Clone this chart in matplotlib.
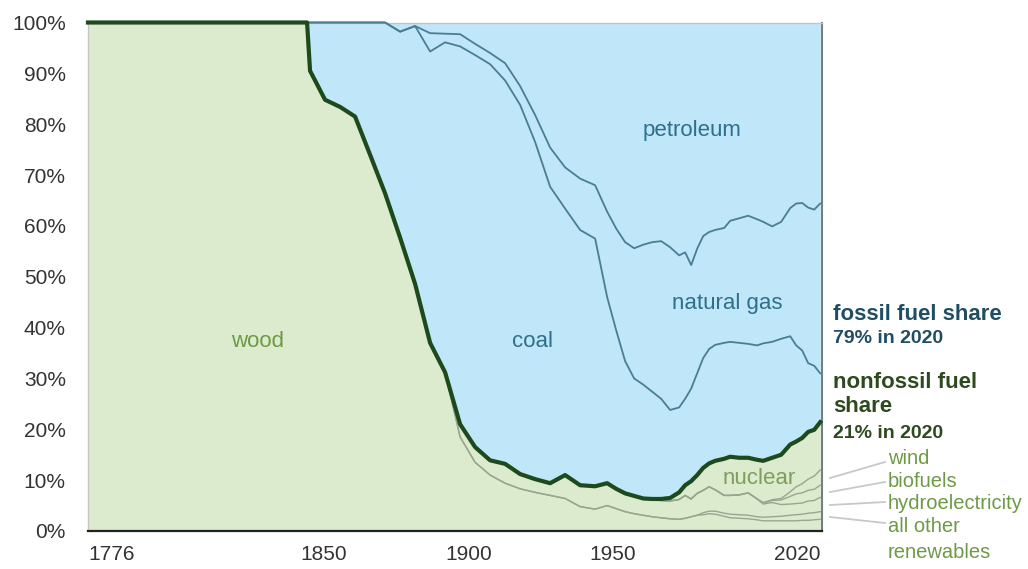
import matplotlib
matplotlib.use("Agg")
import matplotlib.pyplot as plt
import matplotlib.transforms as mtransforms

# ---------------- data (percent of total U.S. primary energy, cumulative layer tops) ----------------
years = [1776, 1849, 1850, 1855, 1860, 1865, 1870, 1875, 1880, 1885, 1890, 1895, 1900, 1905,
         1910, 1915, 1920, 1925, 1930, 1935, 1940, 1945, 1949, 1952, 1955, 1958, 1961, 1964,
         1967, 1970, 1973, 1975, 1977, 1979, 1981, 1983, 1985, 1988, 1990, 1993, 1996, 1999,
         2001, 2004, 2007, 2010, 2012, 2014, 2016, 2018, 2020]

# top of the nonfossil stack (thick line) = nonfossil fuel share
nonfossil_top = [100, 100, 90.5, 84.8, 83.4, 81.5, 74.0, 66.4, 57.7, 48.6, 37.0, 31.2, 21.0, 16.5,
                 13.9, 13.2, 11.2, 10.2, 9.4, 11.0, 9.0, 8.8, 9.4, 8.3, 7.4, 6.9, 6.4, 6.3,
                 6.3, 6.5, 7.6, 9.0, 9.8, 11.0, 12.4, 13.3, 13.8, 14.2, 14.6, 14.4, 14.4, 14.0,
                 13.8, 14.4, 15.0, 17.0, 17.6, 18.3, 19.5, 19.9, 21.4]

# top of coal (coal + nonfossil)
coal_top = [100, 100, 100, 100, 100, 100, 100, 100, 98.2, 99.3, 94.3, 96.1, 95.3, 93.6,
            91.8, 88.6, 83.8, 76.5, 67.7, 63.4, 59.2, 57.5, 46.0, 39.5, 33.4, 30.0, 28.8, 27.4,
            26.0, 23.8, 24.3, 26.0, 28.0, 31.0, 34.0, 35.8, 36.6, 37.0, 37.2, 37.0, 36.8, 36.5,
            36.9, 37.2, 37.8, 38.3, 36.5, 35.5, 33.0, 32.5, 31.0]

# top of natural gas (= 100 - petroleum)
gas_top = [100, 100, 100, 100, 100, 100, 100, 100, 98.2, 99.3, 97.9, 97.8, 97.7, 95.8,
           94.0, 92.0, 87.5, 81.8, 75.4, 71.5, 69.3, 68.0, 62.8, 59.5, 56.8, 55.6, 56.3, 56.8,
           57.0, 55.8, 54.2, 54.8, 52.3, 55.5, 58.0, 58.8, 59.2, 59.6, 61.0, 61.5, 62.0, 61.3,
           60.8, 59.9, 60.8, 63.5, 64.4, 64.5, 63.6, 63.2, 64.4]

# renewable sub-layers (cumulative tops)
wood_top = [100, 100, 90.5, 84.8, 83.4, 81.5, 74.0, 66.4, 57.7, 48.6, 37.0, 31.2, 18.5, 13.5,
            11.0, 9.4, 8.3, 7.6, 7.0, 6.4, 4.8, 4.3, 5.0, 4.4, 3.8, 3.4, 3.1, 2.8,
            2.6, 2.4, 2.3, 2.5, 2.8, 3.1, 3.2, 3.4, 3.3, 2.9, 2.6, 2.5, 2.4, 2.2,
            2.0, 2.0, 2.0, 2.0, 2.0, 2.1, 2.1, 2.2, 2.3]

other_top = [100, 100, 90.5, 84.8, 83.4, 81.5, 74.0, 66.4, 57.7, 48.6, 37.0, 31.2, 18.5, 13.5,
             11.0, 9.4, 8.3, 7.6, 7.0, 6.4, 4.8, 4.3, 5.0, 4.4, 3.8, 3.4, 3.1, 2.8,
             2.6, 2.4, 2.3, 2.5, 2.8, 3.1, 3.6, 3.9, 3.9, 3.5, 3.3, 3.2, 3.1, 2.8,
             2.7, 2.8, 2.9, 3.1, 3.2, 3.3, 3.5, 3.6, 3.8]

hydro_top = [100, 100, 90.5, 84.8, 83.4, 81.5, 74.0, 66.4, 57.7, 48.6, 37.0, 31.2, 21.0, 16.5,
             13.9, 13.2, 11.2, 10.2, 9.4, 11.0, 9.0, 8.8, 9.4, 8.3, 7.4, 6.9, 6.3, 6.1,
             6.0, 5.9, 6.2, 7.0, 6.3, 7.4, 8.0, 8.7, 8.1, 7.0, 7.0, 7.1, 7.5, 6.3,
             5.3, 5.6, 5.2, 5.3, 5.4, 5.5, 5.9, 6.0, 6.6]

biofuels_top = [100, 100, 90.5, 84.8, 83.4, 81.5, 74.0, 66.4, 57.7, 48.6, 37.0, 31.2, 21.0, 16.5,
                13.9, 13.2, 11.2, 10.2, 9.4, 11.0, 9.0, 8.8, 9.4, 8.3, 7.4, 6.9, 6.3, 6.1,
                6.0, 5.9, 6.2, 7.0, 6.3, 7.4, 8.0, 8.7, 8.1, 7.0, 7.0, 7.1, 7.5, 6.3,
                5.5, 6.0, 6.1, 6.8, 7.3, 7.5, 8.0, 8.2, 9.0]

wind_top = [100, 100, 90.5, 84.8, 83.4, 81.5, 74.0, 66.4, 57.7, 48.6, 37.0, 31.2, 21.0, 16.5,
            13.9, 13.2, 11.2, 10.2, 9.4, 11.0, 9.0, 8.8, 9.4, 8.3, 7.4, 6.9, 6.3, 6.1,
            6.0, 5.9, 6.2, 7.0, 6.3, 7.4, 8.0, 8.7, 8.1, 7.0, 7.0, 7.1, 7.5, 6.3,
            5.6, 6.15, 6.4, 7.7, 8.7, 9.3, 10.2, 10.8, 12.0]

x_ticks = [1776, 1850, 1900, 1950, 2020]
y_ticks = [0, 10, 20, 30, 40, 50, 60, 70, 80, 90, 100]

# ---------------- style ----------------
plt.rcParams['font.family'] = ['Liberation Sans', 'DejaVu Sans']

GREEN_FILL = '#dcebcd'
BLUE_FILL = '#bfe7f9'
THICK = '#1d4a1c'
BLUE_LINE = '#4a7d94'
GREEN_LINE = '#98a690'
FOSSIL_TXT = '#2f6f8c'
GREEN_TXT = '#6c9a45'

fig = plt.figure(figsize=(10.28, 5.69), dpi=100)
ax = fig.add_axes([88 / 1028, 38 / 569, 734 / 1028, 508.5 / 569])

ax.fill_between(years, 0, nonfossil_top, color=GREEN_FILL, lw=0, zorder=1)
ax.fill_between(years, nonfossil_top, 100, color=BLUE_FILL, lw=0, zorder=1)

for series in (wood_top, other_top, hydro_top, biofuels_top, wind_top):
    ax.plot(years, series, color=GREEN_LINE, lw=1.0, zorder=2)

ax.plot(years, coal_top, color=BLUE_LINE, lw=1.3, zorder=3, clip_on=False)
ax.plot(years, gas_top, color=BLUE_LINE, lw=1.3, zorder=3, clip_on=False)
ax.plot(years, nonfossil_top, color=THICK, lw=3.0, zorder=4, clip_on=False,
        solid_joinstyle='round')

ax.set_xlim(1776, 2020.6)
ax.set_ylim(0, 100)

# spines
for s in ('left', 'top'):
    ax.spines[s].set_color('#c4c4c4')
    ax.spines[s].set_linewidth(1.0)
ax.spines['right'].set_color('#6f7f86')
ax.spines['right'].set_linewidth(1.5)
ax.spines['bottom'].set_color('#222222')
ax.spines['bottom'].set_linewidth(1.6)

ax.set_yticks(y_ticks)
ax.set_yticklabels([f'{v}%' for v in y_ticks])
ax.set_xticks(x_ticks)
ax.set_xticklabels([str(v) for v in x_ticks])
ax.tick_params(axis='both', length=0, labelsize=15, colors='#333333')
ax.tick_params(axis='y', pad=16)
ax.tick_params(axis='x', pad=10)

xl = ax.get_xticklabels()
xl[0].set_ha('left')
xl[-1].set_ha('right')
for lab, dx in zip(xl[1:4], (14, 9, 3)):
    lab.set_transform(lab.get_transform() +
                      mtransforms.ScaledTranslation(dx / 100, 0, fig.dpi_scale_trans))

# in-chart labels
ax.text(1832.6, 37.2, 'wood', color=GREEN_TXT, fontsize=16, ha='center', va='center', zorder=5)
ax.text(1924, 37.2, 'coal', color=FOSSIL_TXT, fontsize=16, ha='center', va='center', zorder=5)
ax.text(1977.3, 78.7, 'petroleum', color=FOSSIL_TXT, fontsize=16, ha='center', va='center', zorder=5)
ax.text(1989, 44.8, 'natural gas', color=FOSSIL_TXT, fontsize=16, ha='center', va='center', zorder=5)
ax.text(1999.6, 10.4, 'nuclear', color='#7e9e5c', fontsize=16, ha='center', va='center', zorder=5)

# right-hand annotations (axes fraction coordinates)
T = ax.transAxes
ax.text(1.015, 0.4267, 'fossil fuel share', transform=T, fontsize=16, fontweight='bold',
        color='#1f4d63', ha='left', va='center')
ax.text(1.015, 0.3795, '79% in 2020', transform=T, fontsize=14, fontweight='bold',
        color='#1f4d63', ha='left', va='center')
ax.text(1.015, 0.2911, 'nonfossil fuel', transform=T, fontsize=16, fontweight='bold',
        color='#2d4a1f', ha='left', va='center')
ax.text(1.015, 0.2439, 'share', transform=T, fontsize=16, fontweight='bold',
        color='#2d4a1f', ha='left', va='center')
ax.text(1.015, 0.1927, '21% in 2020', transform=T, fontsize=14, fontweight='bold',
        color='#2d4a1f', ha='left', va='center')

leaders = [((1.0109, 0.1042), (1.0858, 0.1357)),
           ((1.0109, 0.0767), (1.0858, 0.0964)),
           ((1.0109, 0.0511), (1.0858, 0.0570)),
           ((1.0109, 0.0275), (1.0858, 0.0157))]
for (x0, y0), (x1, y1) in leaders:
    ax.plot([x0, x1], [y0, y1], transform=T, color='#c8c8c8', lw=1.3, clip_on=False)

for label, yy in (('wind', 0.1416), ('biofuels', 0.0983), ('hydroelectricity', 0.0531),
                  ('all other', 0.0079), ('renewables', -0.0413)):
    ax.text(1.090, yy, label, transform=T, fontsize=14.5, color=GREEN_TXT,
            ha='left', va='center')

fig.savefig('out.png', dpi=100, facecolor='white')
